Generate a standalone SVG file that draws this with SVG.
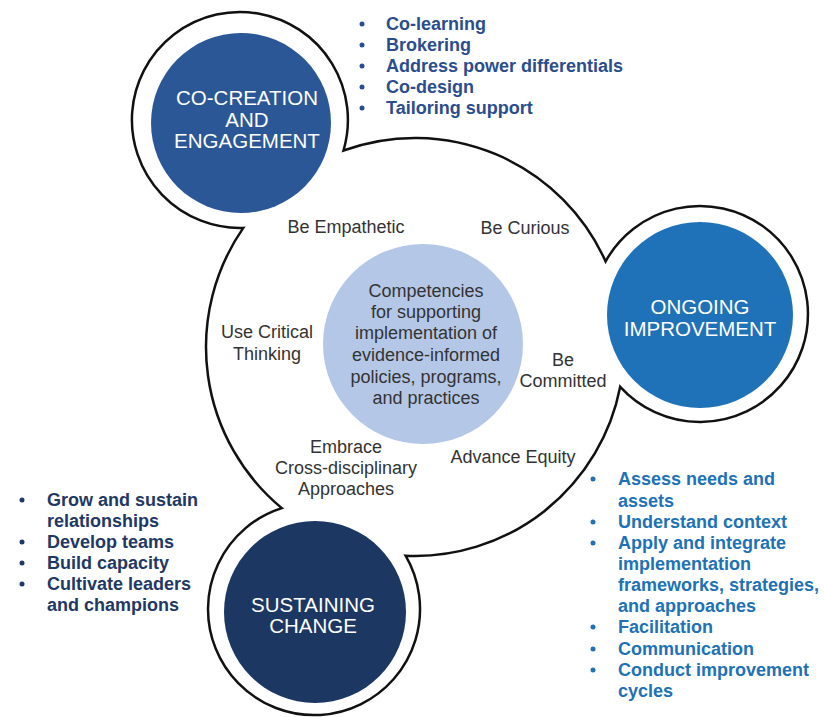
<svg xmlns="http://www.w3.org/2000/svg" width="824" height="717" viewBox="0 0 824 717">
<style>
.ct{font-family:"Liberation Sans",Arial,sans-serif;font-size:20.5px;fill:#ffffff;text-anchor:middle}
.lb{font-family:"Liberation Sans",Arial,sans-serif;font-size:18px;fill:#333333;text-anchor:middle}
.li{font-family:"Liberation Sans",Arial,sans-serif;font-size:18px;font-weight:bold}
.l1{fill:#2b4d8e}
.l2{fill:#1f3864}
.l3{fill:#2071b6}
</style>
<rect width="824" height="717" fill="#ffffff"/>
<g id="connectors">
<path d="M343.5,150.5 A209,209 0 0 1 605.6,261.4 A108,108 0 1 1 620.2,386.8 A209,209 0 0 1 405.6,555.7 A106,106 0 1 1 281.8,508.1 A209,209 0 0 1 243.3,227.9 A108,108 0 1 1 343.5,150.5 Z" fill="#ffffff" stroke="#111111" stroke-width="2.5" stroke-linejoin="miter"/>
</g>
<g id="center">
<circle cx="423" cy="344" r="100" fill="#b4c7e7"/>
<text class="lb" x="426" y="297">Competencies</text>
<text class="lb" x="426" y="318">for supporting</text>
<text class="lb" x="426" y="339">implementation of</text>
<text class="lb" x="426" y="361">evidence-informed</text>
<text class="lb" x="426" y="383">policies, programs,</text>
<text class="lb" x="426" y="404">and practices</text>
</g>
<g id="co-creation">
<circle cx="241" cy="123" r="90" fill="#2b5797"/>
<text class="ct" x="247" y="105">CO-CREATION</text>
<text class="ct" x="247" y="127">AND</text>
<text class="ct" x="247" y="148">ENGAGEMENT</text>
</g>
<g id="ongoing">
<circle cx="700" cy="315" r="93" fill="#1f72b8"/>
<text class="ct" x="700" y="314">ONGOING</text>
<text class="ct" x="700" y="336">IMPROVEMENT</text>
</g>
<g id="sustaining">
<circle cx="315" cy="612" r="91" fill="#1d3763"/>
<text class="ct" x="313" y="612">SUSTAINING</text>
<text class="ct" x="313" y="633">CHANGE</text>
</g>
<g id="labels">
<text class="lb" x="346" y="233">Be Empathetic</text>
<text class="lb" x="525" y="234">Be Curious</text>
<text class="lb" x="267" y="338">Use Critical</text>
<text class="lb" x="267" y="360">Thinking</text>
<text class="lb" x="563" y="366">Be</text>
<text class="lb" x="563" y="387">Committed</text>
<text class="lb" x="346" y="453">Embrace</text>
<text class="lb" x="346" y="474">Cross-disciplinary</text>
<text class="lb" x="346" y="495">Approaches</text>
<text class="lb" x="513" y="463">Advance Equity</text>
</g>
<g id="list-co-creation">
<g class="l1">
<circle cx="362" cy="24" r="2.5"/><circle cx="362" cy="45" r="2.5"/><circle cx="362" cy="66" r="2.5"/><circle cx="362" cy="87" r="2.5"/><circle cx="362" cy="108" r="2.5"/>
</g>
<text class="li l1" x="386" y="30">Co-learning</text>
<text class="li l1" x="386" y="51">Brokering</text>
<text class="li l1" x="386" y="72">Address power differentials</text>
<text class="li l1" x="386" y="93">Co-design</text>
<text class="li l1" x="386" y="114">Tailoring support</text>
</g>
<g id="list-sustaining">
<g class="l2">
<circle cx="22" cy="500" r="2.5"/><circle cx="22" cy="542" r="2.5"/><circle cx="22" cy="563" r="2.5"/><circle cx="22" cy="584" r="2.5"/>
</g>
<text class="li l2" x="47" y="506">Grow and sustain</text>
<text class="li l2" x="47" y="527">relationships</text>
<text class="li l2" x="47" y="548">Develop teams</text>
<text class="li l2" x="47" y="569">Build capacity</text>
<text class="li l2" x="47" y="590">Cultivate leaders</text>
<text class="li l2" x="47" y="611">and champions</text>
</g>
<g id="list-ongoing">
<g class="l3">
<circle cx="593" cy="479" r="2.5"/><circle cx="593" cy="522" r="2.5"/><circle cx="593" cy="543" r="2.5"/><circle cx="593" cy="627" r="2.5"/><circle cx="593" cy="649" r="2.5"/><circle cx="593" cy="670" r="2.5"/>
</g>
<text class="li l3" x="618" y="485">Assess needs and</text>
<text class="li l3" x="618" y="507">assets</text>
<text class="li l3" x="618" y="528">Understand context</text>
<text class="li l3" x="618" y="549">Apply and integrate</text>
<text class="li l3" x="618" y="570">implementation</text>
<text class="li l3" x="618" y="591">frameworks, strategies,</text>
<text class="li l3" x="618" y="612">and approaches</text>
<text class="li l3" x="618" y="633">Facilitation</text>
<text class="li l3" x="618" y="655">Communication</text>
<text class="li l3" x="618" y="676">Conduct improvement</text>
<text class="li l3" x="618" y="697">cycles</text>
</g>
</svg>
